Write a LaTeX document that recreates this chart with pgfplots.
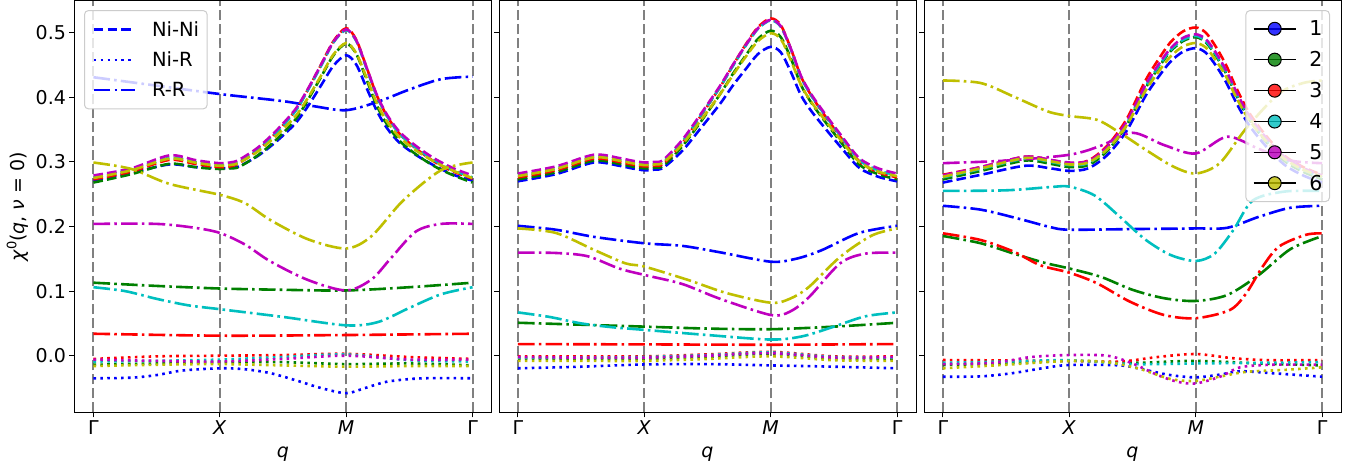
\documentclass[border=0pt]{standalone}
\usepackage{pgfplots}
\pgfplotsset{compat=1.18}
\usepackage{fontspec}
\setmainfont{DejaVu Sans}
\definecolor{mb}{rgb}{0,0,1}
\definecolor{mg}{rgb}{0,0.5,0}
\definecolor{mr}{rgb}{1,0,0}
\definecolor{mc}{rgb}{0,0.75,0.75}
\definecolor{mm}{rgb}{0.75,0,0.75}
\definecolor{my}{rgb}{0.75,0.75,0}
\pgfplotsset{
  nini/.style={line width=2.6pt, dash pattern=on 9.6pt off 4.2pt, smooth},
  nir/.style={line width=2.6pt, dash pattern=on 2.6pt off 4.3pt, smooth},
  rr/.style={line width=2.6pt, dash pattern=on 16.6pt off 4.2pt on 2.6pt off 4.2pt, smooth},
  legmark/.style={black, line width=1.5pt, mark=*, mark size=6.5pt, mark options={fill=#1, draw=black, line width=1pt, solid}},
  panel/.style={
    scale only axis, width=417pt, height=411.3pt,
    xmin=-0.15, xmax=3.15, ymin=-0.0876, ymax=0.549,
    xtick={0,1,2,3}, xticklabels={Γ,\textit{X},\textit{M},Γ},
    ytick={0,0.1,0.2,0.3,0.4,0.5},
    xtick pos=left, ytick pos=left, tick align=outside,
    major tick length=5pt,
    every tick/.style={black, line width=1pt},
    axis line style={black, line width=1pt},
    xmajorgrids, major grid style={gray, line width=2pt, dash pattern=on 10pt off 4pt},
    ticklabel style={font=\fontsize{19}{22}\selectfont},
    /pgf/number format/assume math mode=true,
    yticklabel style={/pgf/number format/fixed, /pgf/number format/fixed zerofill, /pgf/number format/precision=1},
    xlabel={\textit{q}}, xlabel style={font=\fontsize{19}{22}\selectfont, yshift=-5pt},
  },
}
\begin{document}
\begin{tikzpicture}
\path[use as bounding box] (0,0) rectangle (1372pt,472pt);
%%%%%%%%%%%%%%%% PANEL 1
\begin{axis}[panel, at={(74.5pt,59.7pt)}, anchor=south west,
  ylabel={{\itshape χ}\raisebox{0.45em}{\fontsize{13}{15}\selectfont 0}({\itshape q}, {\itshape ν} = 0)},
  ylabel style={font=\fontsize{19}{22}\selectfont},
  legend image code/.code={\draw[#1] (0pt,0pt) -- (41pt,0pt);},
  legend style={at={(0.0228,0.978)}, anchor=north west, draw=black!20, line width=1pt,
    rounded corners=4pt, fill=white, fill opacity=0.8, text opacity=1, draw opacity=1,
    font=\fontsize{19.5}{22}\selectfont, nodes={font=\fontsize{19.5}{22}\selectfont, inner sep=0pt},
    inner xsep=8pt, inner ysep=11pt, row sep=14pt, column sep=16pt},
  legend cell align=left]
% blue
\addplot[mb, nini, forget plot] coordinates {(0,.271)(0.3,.283)(0.6,.296)(0.8,.292)(0.9,.291)(1.0,.290)(1.08,.2905)(1.15,.293)(1.3,.309)(1.45,.332)(1.6,.360)(1.7,.387)(1.8,.418)(1.9,.449)(2.0,.465)(2.08,.4505)(2.16,.415)(2.24,.380)(2.32,.353)(2.42,.330)(2.55,.311)(2.7,.294)(2.85,.280)(3.0,.271)};
\addplot[mb, nir, forget plot] coordinates {(0,-0.035)(0.3,-0.034)(0.5,-0.030)(0.7,-0.023)(1.0,-0.0195)(1.2,-0.021)(1.4,-0.027)(1.6,-0.038)(1.8,-0.050)(2.0,-0.058)(2.15,-0.050)(2.33,-0.040)(2.6,-0.035)(3.0,-0.035)};
\addplot[mb, rr, forget plot] coordinates {(0,0.431)(0.5,0.418)(1.0,0.405)(1.5,0.394)(1.75,0.386)(2.0,0.380)(2.25,0.393)(2.5,0.412)(2.75,0.428)(3.0,0.432)};
% green
\addplot[mg, nini, forget plot] coordinates {(0,.268)(0.3,.281)(0.6,.297)(0.8,.292)(0.9,.290)(1.0,.289)(1.08,.290)(1.15,.292)(1.3,.310)(1.45,.335)(1.6,.366)(1.7,.397)(1.8,.431)(1.9,.465)(2.0,.483)(2.08,.467)(2.16,.428)(2.24,.388)(2.32,.359)(2.42,.333)(2.55,.312)(2.7,.293)(2.85,.279)(3.0,.268)};
\addplot[mg, nir, forget plot] coordinates {(0,-0.014)(0.5,-0.012)(1.0,-0.010)(1.5,-0.010)(2.0,-0.013)(2.5,-0.012)(3.0,-0.015)};
\addplot[mg, rr, forget plot] coordinates {(0,0.113)(0.5,0.108)(1.0,0.104)(1.5,0.102)(2.0,0.101)(2.5,0.106)(3.0,0.113)};
% red
\addplot[mr, nini, forget plot] coordinates {(0,.273)(0.3,.285)(0.6,.303)(0.8,.297)(0.9,.294)(1.0,.292)(1.08,.293)(1.15,.298)(1.3,.318)(1.45,.346)(1.6,.380)(1.7,.413)(1.8,.450)(1.9,.487)(2.0,.507)(2.08,.489)(2.16,.447)(2.24,.404)(2.32,.372)(2.42,.344)(2.55,.321)(2.7,.300)(2.85,.285)(3.0,.274)};
\addplot[mr, nir, forget plot] coordinates {(0,-0.005)(0.5,-0.001)(1.0,0.000)(1.5,0.001)(2.0,0.003)(2.5,-0.002)(3.0,-0.005)};
\addplot[mr, rr, forget plot] coordinates {(0,0.034)(1.0,0.031)(2.0,0.032)(3.0,0.034)};
% cyan
\addplot[mc, nini, forget plot] coordinates {(0,.276)(0.3,.288)(0.6,.306)(0.8,.300)(0.9,.297)(1.0,.295)(1.08,.296)(1.15,.300)(1.3,.319)(1.45,.346)(1.6,.379)(1.7,.412)(1.8,.448)(1.9,.485)(2.0,.504)(2.08,.487)(2.16,.445)(2.24,.403)(2.32,.372)(2.42,.344)(2.55,.322)(2.7,.302)(2.85,.287)(3.0,.276)};
\addplot[mc, nir, forget plot] coordinates {(0,-0.009)(0.5,-0.008)(1.0,-0.006)(1.5,-0.002)(2.0,0.002)(2.5,-0.007)(3.0,-0.009)};
\addplot[mc, rr, forget plot] coordinates {(0,0.106)(0.25,0.100)(0.5,0.088)(0.75,0.078)(1.0,0.072)(1.5,0.060)(2.0,0.047)(2.25,0.052)(2.5,0.074)(2.75,0.095)(3.0,0.106)};
% magenta
\addplot[mm, nini, forget plot] coordinates {(0,.279)(0.3,.290)(0.6,.310)(0.8,.303)(0.9,.300)(1.0,.298)(1.08,.299)(1.15,.303)(1.3,.322)(1.45,.349)(1.6,.382)(1.7,.414)(1.8,.450)(1.9,.486)(2.0,.505)(2.08,.488)(2.16,.447)(2.24,.405)(2.32,.374)(2.42,.347)(2.55,.325)(2.7,.305)(2.85,.290)(3.0,.279)};
\addplot[mm, nir, forget plot] coordinates {(0,-0.006)(0.5,-0.008)(1.0,-0.009)(1.5,-0.005)(2.0,0.000)(2.5,-0.006)(3.0,-0.006)};
\addplot[mm, rr, forget plot] coordinates {(0,0.204)(0.5,0.204)(0.8,0.198)(1.0,0.190)(1.2,0.172)(1.4,0.146)(1.7,0.117)(2.0,0.101)(2.2,0.118)(2.35,0.150)(2.55,0.192)(2.75,0.204)(3.0,0.204)};
% yellow
\addplot[my, nini, forget plot] coordinates {(0,.275)(0.3,.287)(0.6,.305)(0.8,.299)(0.9,.296)(1.0,.294)(1.08,.295)(1.15,.2985)(1.3,.316)(1.45,.341)(1.6,.371)(1.7,.400)(1.8,.433)(1.9,.4665)(2.0,.484)(2.08,.468)(2.16,.431)(2.24,.392)(2.32,.3635)(2.42,.3386)(2.55,.318)(2.7,.300)(2.85,.286)(3.0,.275)};
\addplot[my, nir, forget plot] coordinates {(0,-0.016)(0.5,-0.014)(1.0,-0.013)(1.5,-0.015)(2.0,-0.017)(2.5,-0.016)(3.0,-0.016)};
\addplot[my, rr, forget plot] coordinates {(0,0.299)(0.3,0.289)(0.6,0.266)(1.0,0.249)(1.2,0.236)(1.4,0.210)(1.7,0.180)(2.0,0.166)(2.2,0.185)(2.45,0.240)(2.75,0.287)(3.0,0.299)};
\addlegendimage{mb, nini}\addlegendentry{Ni-Ni}
\addlegendimage{mb, nir}\addlegendentry{Ni-R}
\addlegendimage{mb, rr}\addlegendentry{R-R}
\end{axis}
%%%%%%%%%%%%%%%% PANEL 2
\begin{axis}[panel, at={(499pt,59.7pt)}, anchor=south west, yticklabels={}]
% blue
\addplot[mb, nini] coordinates {(0,.270)(0.3,.281)(0.6,.299)(0.8,.294)(0.9,.290)(1.0,.287)(1.08,.288)(1.15,.291)(1.3,.317)(1.45,.353)(1.6,.390)(1.7,.418)(1.8,.443)(1.9,.467)(2.0,.478)(2.08,.4695)(2.16,.439)(2.24,.403)(2.32,.379)(2.42,.3545)(2.55,.324)(2.7,.291)(2.85,.277)(3.0,.270)};
\addplot[mb, nir] coordinates {(0,-0.0195)(0.5,-0.017)(1.0,-0.0135)(1.5,-0.013)(2.0,-0.015)(2.5,-0.017)(3.0,-0.0195)};
\addplot[mb, rr] coordinates {(0,0.201)(0.3,0.195)(0.6,0.184)(1.0,0.174)(1.3,0.170)(1.6,0.160)(2.0,0.1455)(2.2,0.150)(2.4,0.163)(2.7,0.190)(3.0,0.201)};
% green
\addplot[mg, nini] coordinates {(0,.273)(0.3,.284)(0.6,.302)(0.8,.297)(0.9,.293)(1.0,.290)(1.08,.291)(1.15,.294)(1.3,.324)(1.45,.363)(1.6,.405)(1.7,.436)(1.8,.464)(1.9,.4905)(2.0,.503)(2.08,.493)(2.16,.460)(2.24,.419)(2.32,.392)(2.42,.365)(2.55,.332)(2.7,.296)(2.85,.281)(3.0,.273)};
\addplot[mg, nir] coordinates {(0,-0.005)(0.5,-0.005)(1.0,-0.005)(1.5,-0.002)(2.0,0.003)(2.5,-0.005)(3.0,-0.005)};
\addplot[mg, rr] coordinates {(0,0.051)(0.5,0.048)(1.0,0.045)(1.5,0.042)(2.0,0.041)(2.5,0.045)(3.0,0.051)};
% red
\addplot[mr, nini] coordinates {(0,.276)(0.3,.287)(0.6,.305)(0.8,.300)(0.9,.296)(1.0,.293)(1.08,.294)(1.15,.297)(1.3,.329)(1.45,.372)(1.6,.416)(1.7,.449)(1.8,.481)(1.9,.5085)(2.0,.522)(2.08,.5116)(2.16,.475)(2.24,.432)(2.32,.403)(2.42,.374)(2.55,.339)(2.7,.301)(2.85,.284)(3.0,.276)};
\addplot[mr, nir] coordinates {(0,-0.001)(0.5,-0.001)(1.0,-0.001)(1.5,0.002)(2.0,0.006)(2.5,-0.001)(3.0,-0.001)};
\addplot[mr, rr] coordinates {(0,0.018)(1.0,0.0175)(2.0,0.017)(3.0,0.018)};
% cyan
\addplot[mc, nini] coordinates {(0,.279)(0.3,.290)(0.6,.308)(0.8,.303)(0.9,.299)(1.0,.296)(1.08,.297)(1.15,.300)(1.3,.331)(1.45,.373)(1.6,.416)(1.7,.448)(1.8,.479)(1.9,.506)(2.0,.519)(2.08,.509)(2.16,.474)(2.24,.431)(2.32,.403)(2.42,.375)(2.55,.341)(2.7,.303)(2.85,.287)(3.0,.279)};
\addplot[mc, nir] coordinates {(0,-0.003)(0.5,-0.003)(1.0,-0.002)(1.5,0.001)(2.0,0.005)(2.5,-0.002)(3.0,-0.003)};
\addplot[mc, rr] coordinates {(0,0.067)(0.25,0.060)(0.5,0.050)(0.75,0.044)(1.0,0.040)(1.5,0.032)(2.0,0.025)(2.25,0.030)(2.5,0.045)(2.75,0.061)(3.0,0.067)};
% magenta
\addplot[mm, nini] coordinates {(0,.282)(0.3,.293)(0.6,.311)(0.8,.306)(0.9,.302)(1.0,.299)(1.08,.300)(1.15,.303)(1.3,.334)(1.45,.375)(1.6,.418)(1.7,.450)(1.8,.480)(1.9,.507)(2.0,.520)(2.08,.510)(2.16,.475)(2.24,.433)(2.32,.405)(2.42,.377)(2.55,.343)(2.7,.306)(2.85,.290)(3.0,.282)};
\addplot[mm, nir] coordinates {(0,-0.002)(0.5,-0.003)(1.0,-0.003)(1.5,0.000)(2.0,0.004)(2.5,-0.003)(3.0,-0.002)};
\addplot[mm, rr] coordinates {(0,0.1595)(0.3,0.159)(0.55,0.154)(0.8,0.135)(1.0,0.125)(1.3,0.111)(1.6,0.088)(2.0,0.063)(2.15,0.068)(2.3,0.090)(2.55,0.143)(2.75,0.158)(3.0,0.1595)};
% yellow
\addplot[my, nini] coordinates {(0,.278)(0.3,.289)(0.6,.307)(0.8,.302)(0.9,.298)(1.0,.295)(1.08,.296)(1.15,.299)(1.3,.327)(1.45,.365)(1.6,.405)(1.7,.434)(1.8,.462)(1.9,.487)(2.0,.499)(2.08,.490)(2.16,.457)(2.24,.419)(2.32,.393)(2.42,.367)(2.55,.335)(2.7,.300)(2.85,.285)(3.0,.278)};
\addplot[my, nir] coordinates {(0,-0.008)(0.5,-0.008)(1.0,-0.008)(1.5,-0.005)(2.0,-0.001)(2.5,-0.007)(3.0,-0.008)};
\addplot[my, rr] coordinates {(0,0.197)(0.3,0.190)(0.6,0.164)(0.85,0.143)(1.0,0.138)(1.35,0.117)(1.65,0.097)(2.0,0.082)(2.15,0.088)(2.3,0.106)(2.55,0.153)(2.8,0.186)(3.0,0.197)};
\end{axis}
%%%%%%%%%%%%%%%% PANEL 3
\begin{axis}[panel, at={(924pt,59.7pt)}, anchor=south west, yticklabels={},
  legend image code/.code={\draw[#1, mark repeat=2, mark phase=2] plot coordinates {(0pt,0pt) (21pt,0pt) (42pt,0pt)};},
  legend style={at={(0.9736,0.978)}, anchor=north east, draw=black!20, line width=1pt,
    rounded corners=4pt, fill=white, fill opacity=0.8, text opacity=1, draw opacity=1,
    font=\fontsize{20.5}{23}\selectfont, nodes={font=\fontsize{20.5}{23}\selectfont, inner sep=0pt},
    inner xsep=7pt, inner ysep=10pt, row sep=14.3pt, column sep=13pt},
  legend cell align=left]
% blue
\addplot[mb, nini, forget plot] coordinates {(0,.268)(0.3,.280)(0.65,.294)(0.85,.290)(1.0,.286)(1.15,.290)(1.3,.3106)(1.45,.347)(1.6,.401)(1.7,.430)(1.8,.455)(1.9,.4706)(2.0,.476)(2.08,.469)(2.16,.449)(2.24,.4236)(2.32,.392)(2.42,.3576)(2.55,.3256)(2.7,.296)(2.85,.279)(3.0,.268)};
\addplot[mb, nir, forget plot] coordinates {(0,-0.0325)(0.3,-0.032)(0.55,-0.027)(0.8,-0.019)(1.0,-0.0144)(1.4,-0.0150)(1.6,-0.022)(1.8,-0.030)(2.0,-0.0335)(2.2,-0.029)(2.35,-0.024)(2.6,-0.027)(3.0,-0.0325)};
\addplot[mb, rr, forget plot] coordinates {(0,0.232)(0.3,0.226)(0.6,0.212)(0.85,0.199)(1.0,0.195)(1.5,0.196)(2.0,0.197)(2.25,0.198)(2.5,0.215)(2.75,0.229)(3.0,0.232)};
% green
\addplot[mg, nini, forget plot] coordinates {(0,.273)(0.3,.286)(0.65,.302)(0.85,.297)(1.0,.292)(1.15,.295)(1.3,.317)(1.45,.3555)(1.6,.413)(1.7,.444)(1.8,.471)(1.9,.487)(2.0,.493)(2.08,.485)(2.16,.464)(2.24,.437)(2.32,.4036)(2.42,.367)(2.55,.333)(2.7,.302)(2.85,.2847)(3.0,.273)};
\addplot[mg, nir, forget plot] coordinates {(0,-0.0144)(0.5,-0.012)(1.0,-0.008)(1.5,-0.011)(2.0,-0.008)(2.5,-0.012)(3.0,-0.015)};
\addplot[mg, rr, forget plot] coordinates {(0,0.1853)(0.3,0.174)(0.56,0.158)(0.8,0.144)(1.0,0.135)(1.25,0.122)(1.5,0.102)(1.75,0.089)(2.0,0.0847)(2.25,0.094)(2.5,0.125)(2.75,0.165)(3.0,0.185)};
% red
\addplot[mr, nini, forget plot] coordinates {(0,.280)(0.3,.292)(0.65,.308)(0.85,.303)(1.0,.298)(1.15,.302)(1.3,.325)(1.45,.365)(1.6,.425)(1.7,.457)(1.8,.485)(1.9,.502)(2.0,.508)(2.08,.500)(2.16,.478)(2.24,.450)(2.32,.415)(2.42,.377)(2.55,.342)(2.7,.310)(2.85,.292)(3.0,.280)};
\addplot[mr, nir, forget plot] coordinates {(0,-0.0067)(1.0,-0.008)(1.4,-0.009)(1.7,-0.002)(2.0,0.0026)(2.3,-0.004)(2.6,-0.007)(3.0,-0.0067)};
\addplot[mr, rr, forget plot] coordinates {(0,0.1894)(0.3,0.179)(0.56,0.161)(0.77,0.140)(1.0,0.1285)(1.22,0.112)(1.48,0.0836)(1.75,0.063)(2.0,0.058)(2.27,0.0707)(2.4,0.0966)(2.53,0.138)(2.66,0.169)(2.87,0.187)(3.0,0.1894)};
% cyan
\addplot[mc, nini, forget plot] coordinates {(0,.276)(0.3,.289)(0.65,.305)(0.85,.300)(1.0,.295)(1.15,.298)(1.3,.320)(1.45,.358)(1.6,.4156)(1.7,.446)(1.8,.473)(1.9,.489)(2.0,.495)(2.08,.487)(2.16,.466)(2.24,.4395)(2.32,.406)(2.42,.370)(2.55,.336)(2.7,.305)(2.85,.2876)(3.0,.276)};
\addplot[mc, nir, forget plot] coordinates {(0,-0.011)(0.5,-0.009)(1.0,-0.007)(1.5,-0.013)(2.0,-0.012)(2.5,-0.011)(3.0,-0.010)};
\addplot[mc, rr, forget plot] coordinates {(0,0.255)(0.5,0.256)(0.85,0.261)(1.0,0.2617)(1.2,0.248)(1.4,0.215)(1.6,0.180)(1.8,0.156)(2.0,0.1466)(2.15,0.158)(2.3,0.195)(2.45,0.240)(2.7,0.254)(3.0,0.255)};
% magenta
\addplot[mm, nini, forget plot] coordinates {(0,.279)(0.3,.292)(0.65,.308)(0.85,.303)(1.0,.299)(1.15,.301)(1.3,.323)(1.45,.361)(1.6,.418)(1.7,.449)(1.8,.4755)(1.9,.492)(2.0,.4975)(2.08,.490)(2.16,.469)(2.24,.442)(2.32,.409)(2.42,.3725)(2.55,.339)(2.7,.308)(2.85,.2906)(3.0,.279)};
\addplot[mm, nir, forget plot] coordinates {(0,-0.013)(0.4,-0.011)(0.7,-0.002)(1.0,0.001)(1.3,0.000)(1.5,-0.012)(1.7,-0.030)(1.85,-0.040)(2.0,-0.043)(2.2,-0.032)(2.35,-0.018)(2.6,-0.014)(3.0,-0.014)};
\addplot[mm, rr, forget plot] coordinates {(0,0.298)(0.5,0.302)(1.0,0.311)(1.25,0.325)(1.5,0.345)(1.75,0.326)(2.0,0.313)(2.25,0.339)(2.5,0.320)(2.75,0.302)(3.0,0.298)};
% yellow
\addplot[my, nini, forget plot] coordinates {(0,.277)(0.3,.290)(0.65,.306)(0.85,.301)(1.0,.296)(1.15,.299)(1.3,.3195)(1.45,.3555)(1.6,.409)(1.7,.438)(1.8,.463)(1.9,.4786)(2.0,.484)(2.08,.477)(2.16,.457)(2.24,.432)(2.32,.400)(2.42,.366)(2.55,.334)(2.7,.305)(2.85,.288)(3.0,.277)};
\addplot[my, nir, forget plot] coordinates {(0,-0.0195)(0.5,-0.014)(1.0,-0.008)(1.3,-0.010)(1.55,-0.020)(1.8,-0.036)(2.0,-0.039)(2.2,-0.032)(2.4,-0.025)(2.7,-0.022)(3.0,-0.018)};
\addplot[my, rr, forget plot] coordinates {(0,0.426)(0.3,0.422)(0.56,0.401)(0.83,0.378)(1.0,0.371)(1.22,0.365)(1.4,0.345)(1.61,0.318)(1.82,0.293)(2.0,0.282)(2.19,0.298)(2.4,0.352)(2.66,0.406)(2.85,0.422)(3.0,0.426)};
\addlegendimage{legmark=mb}\addlegendentry{1}
\addlegendimage{legmark=mg}\addlegendentry{2}
\addlegendimage{legmark=mr}\addlegendentry{3}
\addlegendimage{legmark=mc}\addlegendentry{4}
\addlegendimage{legmark=mm}\addlegendentry{5}
\addlegendimage{legmark=my}\addlegendentry{6}
\end{axis}
\end{tikzpicture}
\end{document}
